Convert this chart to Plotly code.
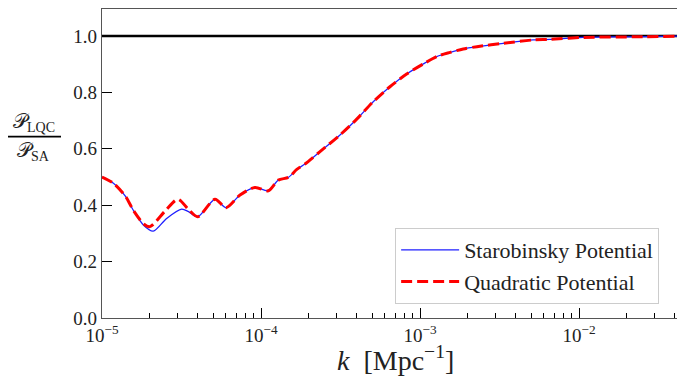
import plotly.graph_objects as go

# k values [Mpc^-1]
k_star = [1.0e-5, 1.18e-5, 1.41e-5, 1.57e-5, 1.82e-5, 2.1e-5, 2.55e-5, 3.17e-5, 3.5e-5, 4.0e-5,
          5.14e-5, 6.03e-5, 7.38e-5, 9.16e-5, 1.11e-4, 1.285e-4, 1.49e-4, 1.68e-4, 1.89e-4,
          2.35e-4, 3.14e-4, 4.0e-4, 5.08e-4, 6.47e-4, 8.24e-4, 1.05e-3, 1.30e-3, 1.55e-3,
          1.87e-3, 2.28e-3, 3.34e-3, 5.16e-3, 6.58e-3, 1.06e-2, 2.19e-2, 5.2e-2]
r_star = [0.500, 0.478, 0.430, 0.383, 0.330, 0.308, 0.353, 0.386, 0.377, 0.359,
          0.421, 0.391, 0.436, 0.463, 0.451, 0.489, 0.499, 0.527, 0.546,
          0.590, 0.649, 0.705, 0.767, 0.820, 0.865, 0.901, 0.929, 0.942,
          0.954, 0.962, 0.974, 0.986, 0.988, 0.995, 0.997, 1.000]

k_quad = [1.0e-5, 1.18e-5, 1.41e-5, 1.57e-5, 1.82e-5, 2.0e-5, 2.5e-5, 3.0e-5, 3.5e-5, 4.0e-5,
          5.14e-5, 6.03e-5, 7.38e-5, 9.16e-5, 1.11e-4, 1.285e-4, 1.49e-4, 1.68e-4, 1.89e-4,
          2.35e-4, 3.14e-4, 4.0e-4, 5.08e-4, 6.47e-4, 8.24e-4, 1.05e-3, 1.30e-3, 1.55e-3,
          1.87e-3, 2.28e-3, 3.34e-3, 5.16e-3, 6.58e-3, 1.06e-2, 2.19e-2, 5.2e-2]
r_quad = [0.500, 0.478, 0.430, 0.383, 0.335, 0.324, 0.380, 0.421, 0.385, 0.359,
          0.421, 0.391, 0.436, 0.463, 0.451, 0.489, 0.499, 0.527, 0.546,
          0.590, 0.649, 0.705, 0.767, 0.820, 0.865, 0.901, 0.929, 0.942,
          0.954, 0.962, 0.974, 0.986, 0.988, 0.995, 0.997, 1.000]

x_range_log = [-5, -1.283]
y_range = [0, 1.0957]
y_ticks = [0.0, 0.2, 0.4, 0.6, 0.8, 1.0]
x_ticks = [1e-5, 1e-4, 1e-3, 1e-2]
x_ticktext = ["10<sup>−5</sup>", "10<sup>−4</sup>", "10<sup>−3</sup>", "10<sup>−2</sup>"]
ref_level = 1.0

SERIF = "Liberation Serif"

fig = go.Figure()
fig.add_trace(go.Scatter(x=[10**x_range_log[0], 10**x_range_log[1]], y=[ref_level, ref_level],
                         mode="lines", line=dict(color="black", width=2.4),
                         showlegend=False, hoverinfo="skip"))
fig.add_trace(go.Scatter(x=k_star, y=r_star, mode="lines", name="Starobinsky Potential",
                         line=dict(color="#1f1fff", width=1.3, shape="spline", smoothing=0.8)))
fig.add_trace(go.Scatter(x=k_quad, y=r_quad, mode="lines", name="Quadratic Potential",
                         line=dict(color="#ff0000", width=3, dash="11px,5px", shape="spline", smoothing=0.8)))

# the page body adds an 8px offset; margins compensate so the plot lands where the reference has it
fig.update_layout(
    width=685, height=376,
    margin=dict(l=94, r=0, t=1, b=66, autoexpand=False),
    paper_bgcolor="white", plot_bgcolor="white",
    font=dict(family=SERIF, color="#222", size=19),
    legend=dict(x=0.496, y=0.291, xanchor="left", yanchor="top",
                bgcolor="white", bordercolor="#cccccc", borderwidth=1,
                font=dict(family=SERIF, size=22, color="#222"),
                itemwidth=58, tracegroupgap=0),
    xaxis=dict(type="log", range=x_range_log, tickvals=x_ticks, ticktext=x_ticktext,
               showgrid=False, zeroline=False, ticks="inside", ticklen=10, tickcolor="black",
               showline=True, linecolor="#555", linewidth=1.3, mirror=True, automargin=False,
               minor=dict(ticks="inside", ticklen=5, dtick="D1", tickcolor="black", showgrid=False),
               tickfont=dict(family=SERIF, size=19)),
    yaxis=dict(range=y_range, tickvals=y_ticks, tickformat=".1f", automargin=False,
               showgrid=False, zeroline=False, ticks="inside", ticklen=10, tickcolor="black",
               showline=True, linecolor="#555", linewidth=1.3,
               tickfont=dict(family=SERIF, size=19)),
)

# x-axis title
fig.add_annotation(xref="paper", yref="paper", x=0.497, y=-0.131, text="<i>k</i>&nbsp; [Mpc<sup>−1</sup>]",
                   showarrow=False, font=dict(family=SERIF, size=28, color="#222"),
                   xanchor="center", yanchor="middle")

# y-axis label as a fraction
fx = -0.1151
fy = 0.587
fig.add_annotation(xref="paper", yref="paper", x=fx, y=fy + 0.003, text="𝒫<sub>LQC</sub>",
                   showarrow=False, font=dict(family=SERIF, size=20, color="#222"),
                   xanchor="center", yanchor="bottom", borderpad=0)
fig.add_annotation(xref="paper", yref="paper", x=fx, y=fy - 0.005, text="𝒫<sub>SA</sub>",
                   showarrow=False, font=dict(family=SERIF, size=20, color="#222"),
                   xanchor="center", yanchor="top", borderpad=0)
fig.add_shape(type="line", xref="paper", yref="paper", x0=-0.1607, x1=-0.0694, y0=fy, y1=fy,
              line=dict(color="black", width=1.6))

fig.write_html("out.html")
